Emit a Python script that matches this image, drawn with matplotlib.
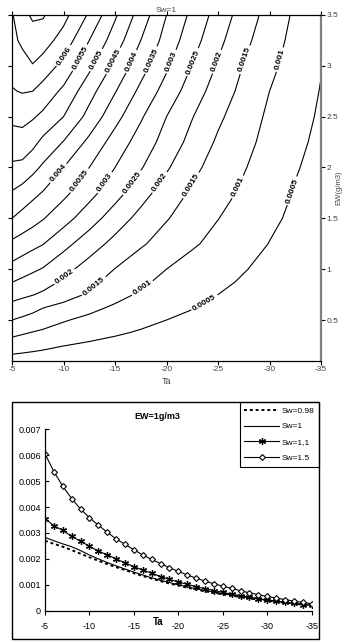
import matplotlib
matplotlib.use('Agg')
import matplotlib.pyplot as plt
import numpy as np
from matplotlib.patches import Rectangle

plt.rcParams['font.family'] = ['Liberation Sans', 'DejaVu Sans']
plt.rcParams['axes.unicode_minus'] = False

# ---- top panel: contour field for Sw=1 (values in units of 1e-3) ----
ta_grid = [-5, -6, -7, -8, -10, -12.5, -15, -17.5, -20, -22.5, -25, -27.5, -30, -32.5, -35]
ew_grid = [0.1, 0.25, 0.375, 0.5, 0.625, 0.75, 0.875, 1.0, 1.25, 1.5, 1.75,
           2.0, 2.25, 2.5, 2.75, 3.0, 3.25, 3.5]
rate_sw1 = [
    [0.31, 0.29, 0.27, 0.25, 0.21, 0.17, 0.15, 0.12, 0.10, 0.08, 0.07, 0.06, 0.04, 0.03, 0.02],
    [0.76, 0.71, 0.66, 0.61, 0.51, 0.43, 0.37, 0.30, 0.25, 0.20, 0.17, 0.14, 0.11, 0.08, 0.06],
    [1.13, 1.05, 0.98, 0.92, 0.80, 0.66, 0.55, 0.46, 0.375, 0.31, 0.255, 0.205, 0.16, 0.12, 0.09],
    [1.50, 1.41, 1.31, 1.22, 1.04, 0.88, 0.75, 0.61, 0.50, 0.41, 0.34, 0.27, 0.21, 0.16, 0.12],
    [1.85, 1.76, 1.66, 1.52, 1.37, 1.14, 0.93, 0.78, 0.64, 0.52, 0.42, 0.335, 0.26, 0.195, 0.14],
    [2.18, 2.10, 2.02, 1.92, 1.70, 1.44, 1.17, 0.93, 0.78, 0.63, 0.50, 0.40, 0.31, 0.23, 0.16],
    [2.51, 2.40, 2.30, 2.20, 1.93, 1.62, 1.33, 1.08, 0.89, 0.72, 0.58, 0.46, 0.355, 0.265, 0.185],
    [2.83, 2.70, 2.58, 2.47, 2.15, 1.80, 1.49, 1.22, 1.00, 0.81, 0.66, 0.52, 0.40, 0.30, 0.21],
    [3.40, 3.27, 3.14, 3.02, 2.66, 2.23, 1.86, 1.56, 1.30, 1.06, 0.86, 0.67, 0.49, 0.37, 0.25],
    [4.00, 3.84, 3.69, 3.53, 3.19, 2.73, 2.25, 1.85, 1.53, 1.27, 1.01, 0.80, 0.58, 0.42, 0.29],
    [4.46, 4.30, 4.13, 3.97, 3.62, 3.16, 2.69, 2.19, 1.76, 1.43, 1.17, 0.92, 0.69, 0.47, 0.33],
    [4.91, 4.87, 4.65, 4.42, 4.00, 3.50, 3.00, 2.54, 2.06, 1.62, 1.30, 1.03, 0.78, 0.53, 0.37],
    [5.29, 5.30, 5.15, 4.88, 4.48, 3.88, 3.29, 2.79, 2.31, 1.84, 1.43, 1.13, 0.86, 0.60, 0.40],
    [5.61, 5.65, 5.55, 5.40, 5.00, 4.34, 3.67, 3.06, 2.50, 2.02, 1.59, 1.23, 0.92, 0.67, 0.44],
    [5.97, 6.03, 6.00, 5.80, 5.40, 4.68, 4.03, 3.38, 2.80, 2.25, 1.77, 1.36, 1.00, 0.73, 0.48],
    [6.15, 6.30, 6.47, 6.30, 5.85, 5.12, 4.39, 3.71, 3.08, 2.48, 1.95, 1.48, 1.11, 0.80, 0.52],
    [6.37, 6.60, 6.85, 6.72, 6.30, 5.50, 4.76, 4.00, 3.31, 2.70, 2.13, 1.63, 1.21, 0.86, 0.56],
    [6.45, 6.90, 7.05, 7.05, 6.66, 5.93, 5.07, 4.28, 3.50, 2.88, 2.30, 1.77, 1.32, 0.92, 0.60],
]
levels = [0.0005, 0.001, 0.0015, 0.002, 0.0025, 0.003, 0.0035, 0.004,
          0.0045, 0.005, 0.0055, 0.006, 0.0065, 0.007]

# ---- bottom panel: EW=1 g/m3 ----
ta = [-5, -6, -7, -8, -9, -10, -11, -12, -13, -14, -15, -16, -17, -18, -19, -20,
      -21, -22, -23, -24, -25, -26, -27, -28, -29, -30, -31, -32, -33, -34, -35]
sw098 = [0.00270, 0.00258, 0.00247, 0.00234, 0.00220, 0.00206, 0.00193, 0.00180,
         0.00168, 0.00157, 0.00145, 0.00134, 0.00124, 0.00114, 0.00105, 0.00097,
         0.00089, 0.00082, 0.00075, 0.00069, 0.00063, 0.00058, 0.00053, 0.00048,
         0.00043, 0.00039, 0.00035, 0.00031, 0.00027, 0.00024, 0.00020]
sw1 = [0.00283, 0.00270, 0.00258, 0.00247, 0.00232, 0.00215, 0.00200, 0.00186,
       0.00173, 0.00161, 0.00149, 0.00138, 0.00127, 0.00117, 0.00109, 0.00100,
       0.00092, 0.00085, 0.00078, 0.00072, 0.00066, 0.00060, 0.00055, 0.00050,
       0.00045, 0.00040, 0.00036, 0.00032, 0.00028, 0.00024, 0.00021]
sw11 = [0.00355, 0.00328, 0.00310, 0.00287, 0.00268, 0.00249, 0.00230, 0.00216,
        0.00200, 0.00185, 0.00170, 0.00157, 0.00145, 0.00132, 0.00121, 0.00111,
        0.00102, 0.00093, 0.00085, 0.00078, 0.00071, 0.00064, 0.00058, 0.00052,
        0.00047, 0.00042, 0.00037, 0.00032, 0.00028, 0.00024, 0.00021]
sw15 = [0.00605, 0.00537, 0.00480, 0.00433, 0.00392, 0.00359, 0.00330, 0.00303,
        0.00277, 0.00256, 0.00235, 0.00215, 0.00198, 0.00182, 0.00166, 0.00152,
        0.00138, 0.00126, 0.00114, 0.00104, 0.00095, 0.00086, 0.00077, 0.00069,
        0.00062, 0.00055, 0.00049, 0.00043, 0.00037, 0.00032, 0.00027]

x_ticks = [-5, -10, -15, -20, -25, -30, -35]
ew_ticks = [0.5, 1, 1.5, 2, 2.5, 3, 3.5]

fig = plt.figure(figsize=(3.44, 6.42), dpi=100)

# ---------------- contour plot ----------------
ax1 = fig.add_axes([0.0349, 0.4382, 0.8983, 0.5385])
ax1.set_xlim(-5, -35)
ax1.set_ylim(0.1, 3.5)
X, Y = np.meshgrid(ta_grid, ew_grid)
Z = np.array(rate_sw1) * 1e-3
cs = ax1.contour(X, Y, Z, levels=levels, colors='black', linewidths=0.8)

label_pos = [(-10.0, 3.1), (-11.6, 3.08), (-13.5, 3.04), (-15.0, 3.04), (-16.6, 3.04),
             (-18.4, 3.06), (-20.5, 3.04), (-22.45, 3.04), (-24.9, 3.04), (-27.6, 3.06),
             (-31.0, 3.06),
             (-9.66, 1.93), (-11.44, 1.88), (-14.03, 1.85), (-16.94, 1.83), (-19.37, 1.85),
             (-22.28, 1.83), (-26.65, 1.82), (-31.83, 1.78),
             (-10.15, 0.92), (-13.06, 0.82), (-17.75, 0.80), (-23.57, 0.69)]
labels = ax1.clabel(cs, fmt='%g', fontsize=6, manual=label_pos, inline=True, inline_spacing=2)

# the x axis runs reversed, so set each label angle from the line as it is drawn on screen
paths = cs.get_paths()
lvl_list = list(cs.levels)
for t in labels:
    t.set_fontweight('bold')
    lvl = float(t.get_text())
    idx = int(np.argmin([abs(lv - lvl) for lv in lvl_list]))
    verts = paths[idx].vertices
    if len(verts) < 2:
        continue
    scr = ax1.transData.transform(verts)
    pos = ax1.transData.transform(t.get_position())
    dist = np.hypot(scr[:, 0] - pos[0], scr[:, 1] - pos[1])
    near = scr[dist < 28]
    if len(near) < 2:
        near = scr[np.argsort(dist)[:4]]
    cen = near - near.mean(axis=0)
    _, _, vt = np.linalg.svd(cen, full_matrices=False)
    dx, dy = vt[0]
    ang = np.degrees(np.arctan2(dy, dx))
    if ang > 90:
        ang -= 180
    elif ang < -90:
        ang += 180
    t.set_transform_rotates_text(False)
    t.set_rotation(ang)

ax1.set_xticks(x_ticks)
ax1.set_xticklabels([str(v) for v in x_ticks])
ax1.set_yticks(ew_ticks)
ax1.set_yticklabels(['%g' % v for v in ew_ticks])
ax1.tick_params(axis='x', top=True, bottom=True, direction='out', length=3,
                width=0.8, labelsize=6, labelcolor='#444444', pad=1)
ax1.tick_params(axis='y', left=True, right=True, labelleft=False, labelright=True,
                direction='out', length=3, width=0.8, labelsize=6,
                labelcolor='#444444', pad=1)
for side in ['top', 'bottom', 'left']:
    ax1.spines[side].set_linewidth(0.9)
ax1.spines['right'].set_color('#808080')
ax1.spines['right'].set_linewidth(1.6)
ax1.set_title('Sw=1', fontsize=6, color='#444444', pad=2)
ax1.set_xlabel('Ta', fontsize=6.5, color='#444444', labelpad=3)
ax1.yaxis.set_label_position('right')
ax1.set_ylabel('EW(g/m3)', fontsize=5.5, color='#444444', va='center')
ax1.yaxis.set_label_coords(1.058, 0.5)

# ---------------- line plot ----------------
ax2 = fig.add_axes([0.1308, 0.0487, 0.7753, 0.2826])
ax2.plot(ta, sw098, color='black', lw=1.4, ls=(0, (1.5, 1.5)), label='Sw=0.98')
ax2.plot(ta, sw1, color='black', lw=0.8, label='Sw=1')
ax2.plot(ta, sw11, color='black', lw=0.8, marker=(6, 2, 0), ms=5, mew=0.9, label='Sw=1,1')
ax2.plot(ta, sw15, color='black', lw=0.8, marker='D', ms=3.0, mfc='white',
         mec='black', mew=0.8, label='Sw=1.5')
ax2.set_xlim(-5, -35)
ax2.set_ylim(0, 0.007)
ax2.set_xticks(x_ticks)
ax2.set_xticklabels([str(v) for v in x_ticks])
ax2.set_yticks([0, 0.001, 0.002, 0.003, 0.004, 0.005, 0.006, 0.007])
ax2.set_yticklabels(['0', '0.001', '0.002', '0.003', '0.004', '0.005', '0.006', '0.007'])
ax2.tick_params(axis='y', direction='in', length=3, width=0.8, labelsize=6.5, pad=3)
ax2.tick_params(axis='x', direction='out', length=3, width=0.8, labelsize=6.5, pad=5)
ax2.spines['top'].set_visible(False)
ax2.spines['right'].set_visible(False)
ax2.spines['left'].set_linewidth(0.9)
ax2.spines['bottom'].set_linewidth(0.9)
ax2.set_xlabel('Ta', fontsize=7, fontweight='bold')
ax2.xaxis.set_label_coords(0.424, -0.062)
ax2.xaxis.label.set_verticalalignment('center')
ax2.text(0.42, 1.07, 'EW=1g/m3', transform=ax2.transAxes, ha='center', va='center',
         fontsize=6.5, fontweight='bold')

leg = ax2.legend(loc='upper right', bbox_to_anchor=(0.9273, 0.3734),
                 bbox_transform=fig.transFigure, fontsize=6, frameon=True,
                 fancybox=False, edgecolor='black', framealpha=1, borderaxespad=0,
                 handlelength=4.2, labelspacing=0.95, borderpad=0.55, handletextpad=0.3)
leg.get_frame().set_linewidth(0.8)

fig.patches.append(Rectangle((0.0349, 0.0042), 0.8924, 0.3692, transform=fig.transFigure,
                             fill=False, edgecolor='black', linewidth=1.0))

fig.savefig('out.png', dpi=100)
